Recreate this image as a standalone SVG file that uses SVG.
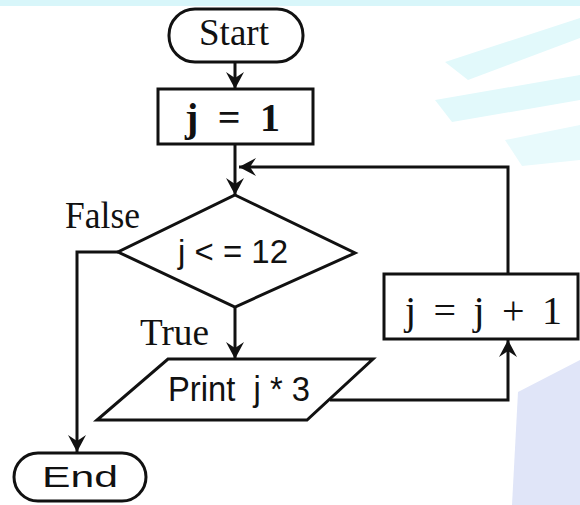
<svg xmlns="http://www.w3.org/2000/svg" width="580" height="505" viewBox="0 0 580 505">
<defs>
<marker id="arr" viewBox="-20 -11 22 22" refX="0" refY="0" markerWidth="22" markerHeight="22" markerUnits="userSpaceOnUse" orient="auto">
<path d="M0,0 L-17,-9 L-11,0 L-17,9 Z" fill="#111"/>
</marker>
</defs>
<style>
.s{fill:#fff;stroke:#111;stroke-width:3}
.c{fill:none;stroke:#111;stroke-width:3}
.serif{font-family:"Liberation Serif","Times New Roman",serif;fill:#111}
.sans{font-family:"Liberation Sans",Arial,sans-serif;fill:#111}
</style>
<rect width="580" height="505" fill="#fff"/>
<g id="watermark">
<polygon points="445,62 580,18 580,38 468,80" fill="#e2f9fb"/>
<polygon points="435,100 580,75 580,100 452,122" fill="#e2f9fb"/>
<polygon points="505,140 580,125 580,160 522,166" fill="#e8fafc"/>
<polygon points="0,0 580,0 580,6 0,6" fill="#d8f6fa"/>
<polygon points="518,392 580,360 580,505 512,505" fill="#e0e5f8"/>
</g>
<g id="connectors">
<line class="c" x1="235" y1="63" x2="235" y2="89" marker-end="url(#arr)"/>
<line class="c" x1="235" y1="144" x2="235" y2="195" marker-end="url(#arr)"/>
<polyline class="c" points="508,274 508,167 239,167" marker-end="url(#arr)"/>
<polyline class="c" points="118,252 77,252 77,452" marker-end="url(#arr)"/>
<line class="c" x1="235" y1="307" x2="235" y2="359" marker-end="url(#arr)"/>
<polyline class="c" points="330,400 508,400 508,340" marker-end="url(#arr)"/>
</g>
<g id="start">
<rect class="s" x="169" y="9" width="134" height="53" rx="26"/>
<text class="serif" x="234" y="45" font-size="37" text-anchor="middle">Start</text>
</g>
<g id="init">
<rect class="s" x="158" y="89" width="155" height="55"/>
<text class="serif" x="185" y="131" font-size="40" font-weight="bold" textLength="95" lengthAdjust="spacing">j = 1</text>
</g>
<g id="decision">
<polygon class="s" points="235,195 355,253 235,307 118,252"/>
<text class="sans" x="178" y="263" font-size="33" textLength="110" lengthAdjust="spacingAndGlyphs">j &lt; = 12</text>
<text class="serif" x="65" y="228" font-size="38" textLength="75" lengthAdjust="spacingAndGlyphs">False</text>
<text class="serif" x="140" y="345" font-size="38" textLength="69" lengthAdjust="spacingAndGlyphs">True</text>
</g>
<g id="print">
<polygon class="s" points="168,359 373,359 307,420 97,420"/>
<text class="sans" x="168" y="401" font-size="35" textLength="142" lengthAdjust="spacingAndGlyphs">Print&#160; j * 3</text>
</g>
<g id="increment">
<rect class="s" x="384" y="274" width="194" height="65"/>
<text class="serif" x="405" y="324" font-size="40" textLength="157" lengthAdjust="spacing">j = j + 1</text>
</g>
<g id="end">
<rect class="s" x="14" y="453" width="132" height="48" rx="24"/>
<text class="sans" x="42" y="487" font-size="30" textLength="76" lengthAdjust="spacingAndGlyphs">End</text>
</g>
</svg>
